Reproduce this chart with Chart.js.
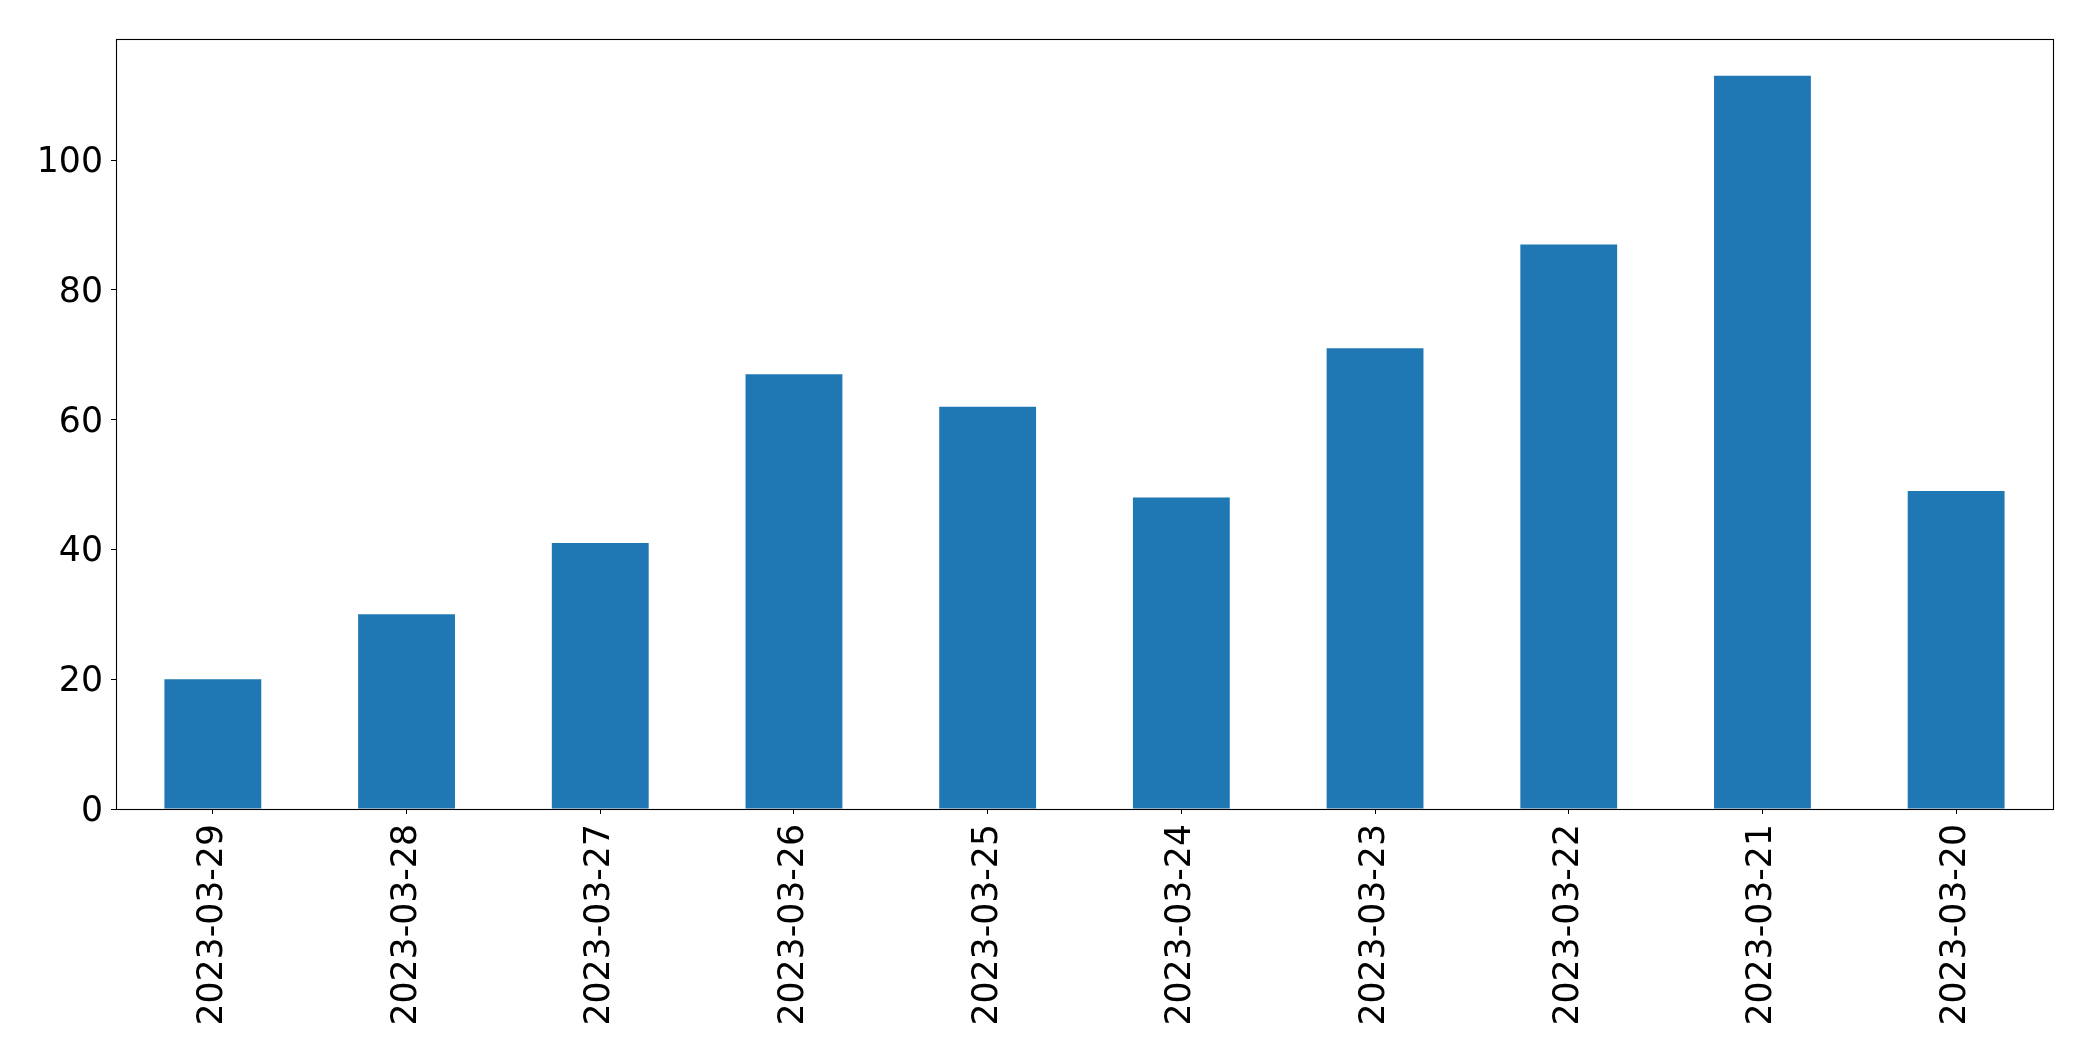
<!DOCTYPE html>
<html>
<head>
<meta charset="utf-8">
<script src="https://cdn.jsdelivr.net/npm/chart.js@4/dist/chart.umd.min.js"></script>
<style>
  html, body { margin: 0; padding: 0; background: #fff; }
  canvas { display: block; }
</style>
</head>
<body>
<canvas id="chart" width="2093" height="1061"></canvas>
<script>
// === data ===
const DATES = [
  "2023-03-29", "2023-03-28", "2023-03-27", "2023-03-26", "2023-03-25",
  "2023-03-24", "2023-03-23", "2023-03-22", "2023-03-21", "2023-03-20",
];
const COUNTS = [20, 30, 41, 67, 62, 48, 71, 87, 113, 49];
const Y_TICKS = [0, 20, 40, 60, 80, 100];
const Y_MAX = 118.65;

const FONT = { family: "'DejaVu Sans', sans-serif", size: 34.7 };

// box around the plot area, like matplotlib's spines
const frame = {
  id: "frame",
  afterDraw(chart) {
    const { ctx, chartArea: a } = chart;
    ctx.save();
    ctx.strokeStyle = "#000";
    ctx.lineWidth = 1.1;
    ctx.strokeRect(a.left + 0.5, a.top + 0.5, a.right - a.left, a.bottom - a.top);
    ctx.restore();
  },
};

new Chart(document.getElementById("chart"), {
  type: "bar",
  data: {
    labels: DATES,
    datasets: [{
      data: COUNTS,
      backgroundColor: "#1f77b4",
      barPercentage: 0.5,
      categoryPercentage: 1.0,
    }],
  },
  options: {
    responsive: false,
    animation: false,
    layout: { padding: { top: 39, right: 40, left: 0, bottom: 0 } },
    plugins: { legend: { display: false }, tooltip: { enabled: false } },
    scales: {
      x: {
        offset: true,
        grid: { offset: false, drawOnChartArea: false, color: "#000", tickLength: 5 },
        border: { display: false },
        ticks: { color: "#000", font: FONT, minRotation: 90, maxRotation: 90, padding: 10, autoSkip: false },
        afterFit(scale) { scale.height = 252; },
      },
      y: {
        min: 0,
        max: Y_MAX,
        grid: { drawOnChartArea: false, color: "#000", tickLength: 5 },
        border: { display: false },
        ticks: { color: "#000", font: FONT, padding: 8, labelOffset: 3 },
        afterBuildTicks(scale) { scale.ticks = Y_TICKS.map(v => ({ value: v })); },
        afterFit(scale) { scale.width = 116; },
      },
    },
  },
  plugins: [frame],
});
</script>
</body>
</html>
